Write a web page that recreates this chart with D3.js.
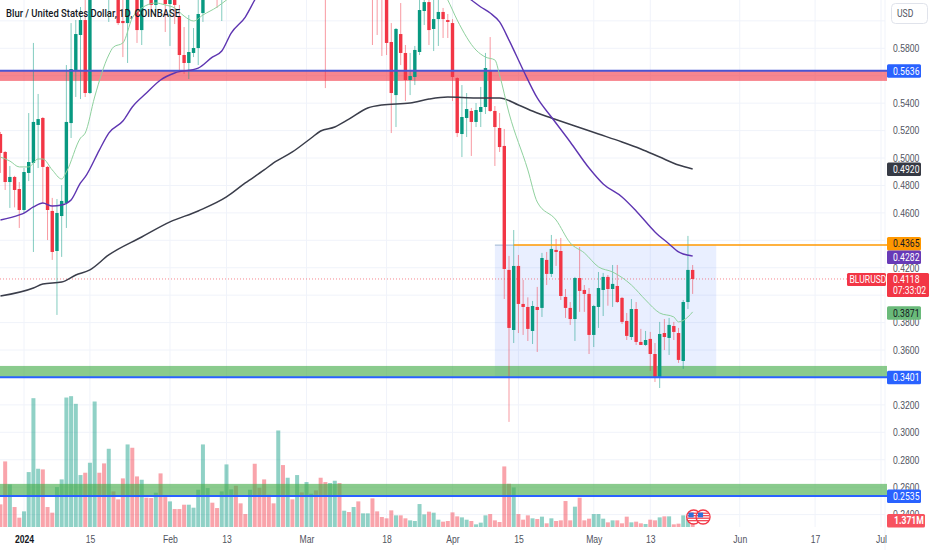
<!DOCTYPE html>
<html>
<head>
<meta charset="utf-8">
<script src="https://cdn.jsdelivr.net/npm/d3@7"></script>
<style>
  html, body { margin: 0; padding: 0; background: #fff; }
  svg { display: block; font-family: Roboto, sans-serif; }
  text { fill: #50535e; font-size: 10.5px; }
</style>
</head>
<body>
<svg id="chart" width="932" height="550"></svg>
<script>
// daily candles, first bar is 27 Dec 2023. Bars above the top edge of the picture are rough guesses.
var firstDay = Date.UTC(2023, 11, 27);
var opens = [.5175,.5044,.4825,.4862,.4774,.4621,.4891,.4964,.5241,.5292,
  .4935,.4614,.4322,.4577,.4672,.5255,.5642,.5897,.6006,.5474,
  .6260,.66,.645,.635,.665,.65,.5999,.5984,.635,.64,
  .5933,.635,.625,.6116,.622,.6185,.6123,.625,.6035,.5751,
  .5693,.5766,.5802,.6057,.635,.645,.63,.62,.645,.665,
  .675,.665,.655,.65,.66,.64,.635,.655,.645,.635,
  .68,.665,.68,.67,.685,.675,.69,.70,.69,.675,
  .66,.68,.69,.67,.68,.67,.68,.66,.67,.68,
  .65,.63,.62,.5846,.5459,.5904,.5766,.5569,.5591,.5773,
  .6072,.6137,.5941,.6013,.6065,.6006,.5984,.5583,.5175,.5292,
  .5343,.5263,.5336,.5372,.5642,.5343,.5219,.5088,.4184,.3746,
  .4213,.3936,.3914,.3739,.3914,.3907,.4257,.4155,.4330,.4322,
  .3987,.3907,.3826,.4125,.4038,.4009,.3710,.3914,.4038,.4133,
  .4045,.4067,.3980,.3812,.3695,.3899,.3659,.3637,.3681,.3571,
  .3404,.3724,.3688,.3775,.3724,.3520,.3950,.4184];
var highs = [.5190,.5051,.4942,.4870,.4825,.4927,.5328,.5839,.5467,.5299,
  .4942,.4709,.4701,.4803,.5678,.5984,.6006,.6101,.6200,.6400,
  .67,.675,.66,.675,.68,.66,.625,.645,.65,.65,
  .645,.645,.635,.63,.64,.63,.635,.64,.6116,.5955,
  .6043,.5948,.62,.65,.65,.655,.64,.655,.675,.68,
  .685,.675,.665,.67,.67,.655,.645,.665,.655,.69,
  .69,.685,.69,.695,.695,.70,.705,.71,.70,.69,
  .685,.695,.70,.685,.69,.685,.69,.68,.685,.69,
  .66,.645,.63,.5984,.5948,.6130,.5824,.5766,.5817,.6152,
  .625,.625,.62,.6160,.6094,.6050,.6013,.5590,.5532,.5474,
  .5365,.5401,.5518,.5766,.5882,.5379,.5328,.5212,.4286,.4475,
  .4293,.4111,.3984,.3958,.4060,.4308,.4315,.4439,.4410,.4417,
  .4045,.3950,.4133,.4351,.4074,.4052,.3929,.4169,.4162,.4147,
  .4220,.4220,.3987,.3870,.3972,.3950,.3754,.3739,.3732,.3651,
  .3805,.3826,.3834,.3805,.3761,.3965,.4432,.4220];
var lows = [.4891,.4767,.4636,.4640,.4490,.4599,.4832,.4315,.4927,.4672,
  .4402,.4257,.3856,.4279,.4490,.5146,.5445,.5430,.5445,.5467,
  .619,.64,.63,.5992,.64,.5970,.5736,.5693,.62,.5839,
  .5824,.62,.6079,.6065,.617,.5919,.5817,.5977,.5642,.5613,
  .5576,.5736,.5678,.5992,.62,.625,.6094,.5999,.635,.65,
  .655,.65,.64,.64,.635,.63,.622,.64,.63,.63,
  .66,.655,.665,.66,.67,.665,.68,.685,.67,.5510,
  .65,.67,.665,.66,.665,.66,.655,.65,.66,.5824,
  .5897,.5744,.5751,.5182,.5226,.5678,.5416,.5459,.5532,.5751,
  .5970,.5824,.5780,.5817,.5875,.5875,.5416,.5153,.5007,.5153,
  .5015,.5226,.5226,.5321,.5336,.4942,.5044,.3972,.3076,.3651,
  .3724,.3710,.3666,.3644,.3586,.3841,.4074,.4133,.4213,.3965,
  .3834,.3783,.3666,.3878,.3878,.3571,.3622,.3761,.3848,.3923,
  .3914,.3943,.3790,.3673,.3673,.3637,.3637,.3630,.3447,.3367,
  .3323,.3600,.3564,.3673,.3506,.3462,.3899,.4009];
var closes = [.5037,.4825,.4862,.4767,.4621,.4898,.4971,.5263,.5284,.4935,
  .4621,.4315,.4599,.4687,.5263,.5649,.5904,.6006,.5474,.6260,
  .66,.645,.635,.665,.65,.5984,.5984,.635,.622,.5933,
  .635,.625,.6116,.622,.6185,.6123,.625,.6116,.5751,.5693,
  .5773,.5802,.6050,.635,.645,.63,.62,.645,.665,.675,
  .665,.655,.65,.66,.64,.635,.625,.645,.635,.68,
  .665,.68,.67,.685,.675,.69,.70,.69,.675,.66,
  .68,.69,.67,.68,.67,.68,.66,.67,.68,.65,
  .63,.62,.5839,.5474,.5941,.5766,.5569,.5598,.5788,.6079,
  .6137,.5933,.6013,.6065,.6013,.5992,.5591,.5182,.5299,.5357,
  .5263,.5350,.5372,.5656,.5343,.5226,.5080,.4191,.3761,.4213,
  .3936,.3914,.3754,.3921,.3892,.4271,.4155,.4337,.4315,.3994,
  .3907,.3826,.4125,.4031,.4009,.3710,.3921,.4052,.4133,.4045,
  .4082,.3950,.3805,.3703,.3899,.3659,.3637,.3673,.3571,.3404,
  .3717,.3695,.3783,.3732,.3528,.3950,.4184,.4118];
// volume in millions
var volumes = [5.17,14.97,9.73,4.56,2.13,3.57,12.54,29.41,13.30,13.15,
  4.56,3.27,9.12,10.87,29.56,29.87,28.12,11.86,12.39,14.67,
  28.65,12.39,14.52,17.86,8.13,6.31,11.10,18.85,18.09,11.55,
  10.79,6.69,6.61,7.83,12.24,6.84,5.85,4.10,4.10,5.09,
  5.09,4.41,8.51,18.85,8.89,5.55,4.33,8.13,14.29,8.59,
  9.42,5.40,2.96,8.51,14.44,8.97,10.87,7.37,5.40,22.04,
  14.14,11.25,6.31,11.86,7.90,10.26,7.60,8.36,11.25,10.26,
  10.03,10.56,10.03,3.72,3.42,4.56,5.85,3.12,3.12,6.54,
  3.57,2.28,1.98,3.80,2.66,2.66,1.98,1.52,1.37,5.24,
  2.89,3.50,3.27,1.67,1.22,1.37,3.34,2.43,2.20,1.67,
  1.37,.61,.99,2.66,2.96,1.52,1.14,13.83,9.88,9.04,
  2.96,1.67,2.66,1.98,1.82,2.36,.84,1.98,1.37,1.52,
  5.93,1.52,4.64,6.69,1.52,1.90,2.96,2.96,1.90,1.06,
  1.52,1.52,.84,2.36,1.06,1.22,.84,.68,1.67,1.52,
  2.20,2.43,2.43,.61,.76,2.66,1.90,1.371];

// moving averages, read every few days (day number counted from 1 Jan 2024)
var maFastDays = [-5,-3,-1,1,3,4,6,8,9,12,13,15,18,19,21,23,25,28,30,32,34,36,38,41,43,55,70,85,90,92,96,98,100,101,103,107,109,113,116,119,122,125,129,132,135,138,139,141,142];
var maFast = [.5007,.4978,.4935,.4935,.4993,.4993,.4913,.4847,.4898,.5146,.5182,.5445,.5751,.5809,.5839,.6021,.6094,.6130,.6116,.6094,.6035,.5999,.6043,.6101,.6152,.64,.68,.64,.6152,.6006,.5787,.5736,.5715,.5605,.5328,.4913,.4679,.4548,.4381,.4308,.4206,.4169,.4074,.3965,.3870,.3841,.3805,.3841,.3878];
var maMidDays = [-5,-1,0,2,4,6,8,10,12,13,16,18,21,23,26,29,32,37,40,42,44,47,49,55,70,85,95,97,99,101,103,106,109,112,116,120,123,127,130,134,137,139,140,142];
var maMid = [.4548,.4585,.4599,.4643,.4672,.4650,.4657,.4694,.4818,.4862,.5058,.5182,.5270,.5372,.5474,.5569,.5620,.5656,.5736,.5780,.5911,.6028,.6152,.65,.665,.64,.6152,.6101,.6057,.5992,.5860,.5642,.5438,.5299,.5117,.4927,.4811,.4716,.4614,.4461,.4373,.4315,.4300,.4286];
var maSlowDays = [-5,2,4,8,11,14,18,25,31,37,43,47,51,53,57,61,63,66,69,73,76,82,86,90,96,101,105,109,112,117,122,127,131,135,139,142];
var maSlow = [.3994,.4052,.4082,.4096,.4147,.4184,.4293,.4424,.4534,.4614,.4716,.4818,.4913,.4964,.5044,.5146,.5197,.5226,.5284,.5365,.5387,.5401,.5430,.5445,.5438,.5438,.5387,.5328,.5292,.5233,.5175,.5117,.5066,.5007,.4949,.4920];

// supply and demand bands
var zoneTops = [.5636,.3484,.2624];
var zoneBottoms = [.5562,.3401,.2535];
var zoneLevels = [.5636,.3401,.2535];

var gridTicks = [.60,.58,.56,.54,.52,.50,.48,.46,.44,.42,.40,.38,.36,.34,.32,.30,.28,.26,.24];
var priceTicks = [.58,.54,.52,.50,.48,.46,.42,.38,.36,.32,.30,.28,.26,.24];
var timeTicks = [Date.UTC(2024,0,1),Date.UTC(2024,0,15),Date.UTC(2024,1,1),Date.UTC(2024,1,13),Date.UTC(2024,2,1),Date.UTC(2024,2,18),Date.UTC(2024,3,1),Date.UTC(2024,3,15),Date.UTC(2024,4,1),Date.UTC(2024,4,13),Date.UTC(2024,5,1),Date.UTC(2024,5,17),Date.UTC(2024,6,1)];
var timeLabels = ["2024","15","Feb","13","Mar","18","Apr","15","May","13","Jun","17","Jul"];

var rangeTop = .4365, rangeBottom = .3401;
var lastClose = .4118;
var tagPrices = [.5636,.4920,.4365,.4282,.3871,.3401,.2535];
var tagLabels = ["0.5636","0.4920","0.4365","0.4282","0.3871","0.3401","0.2535"];
var title = "Blur / United States Dollar, 1D, COINBASE";

function dayDate(i) { return d3.utcDay.offset(new Date(firstDay), i); }
function maDate(d) { return d3.utcDay.offset(new Date(Date.UTC(2024,0,1)), d); }

var green = "#089981", red = "#f23645", blue = "#2962ff";
var tagFills = ["#2962ff","#363a45","#ff9800","#673ab7","#6aba7a","#2962ff","#2962ff"];
var tagText = ["#fff","#fff","#131722","#fff","#131722","#fff","#fff"];
var tagShift = [0,0,-1.5,0.5,0,0,0];

var paneRight = 887, paneBottom = 527, axisX = 885;

var x = d3.scaleUtc().domain([new Date(timeTicks[0]), new Date(timeTicks[12])]).range([24, 881]);
var y = d3.scaleLinear().domain([.58, .24]).range([48.3, 514.6]);
var yVol = d3.scaleLinear().domain([0, 30]).range([paneBottom, paneBottom - 131.4]);

var svg = d3.select("#chart");
svg.append("clipPath").attr("id", "pane").append("rect").attr("width", paneRight).attr("height", paneBottom);

// grid
var grid = svg.append("g").attr("stroke", "#f0f3fa").attr("stroke-width", 1);
grid.selectAll(".gy").data(gridTicks).enter().append("line").attr("class", "gy")
  .attr("x1", 0).attr("x2", axisX).attr("y1", function(d) { return y(d); }).attr("y2", function(d) { return y(d); });
grid.selectAll(".gx").data(timeTicks).enter().append("line").attr("class", "gx")
  .attr("x1", function(d) { return x(new Date(d)); }).attr("x2", function(d) { return x(new Date(d)); })
  .attr("y1", 0).attr("y2", paneBottom);
grid.append("line").attr("x1", axisX).attr("x2", axisX).attr("y1", 0).attr("y2", 550);

var pane = svg.append("g").attr("clip-path", "url(#pane)");
var idx = d3.range(opens.length);
function isUp(i) { return closes[i] >= opens[i]; }

// range box
pane.append("rect").attr("x", x(dayDate(105))).attr("width", x(maDate(147.5)) - x(dayDate(105)))
  .attr("y", y(rangeTop)).attr("height", y(rangeBottom) - y(rangeTop))
  .attr("fill", blue).attr("fill-opacity", .1);
pane.append("line").attr("x1", x(dayDate(105))).attr("x2", x(dayDate(109)))
  .attr("y1", y(rangeTop)).attr("y2", y(rangeTop)).attr("stroke", "#9db4cf").attr("stroke-width", 1);

// volume
pane.selectAll(".vol").data(idx).enter().append("rect").attr("class", "vol")
  .attr("x", function(i) { return x(dayDate(i)) - 2; }).attr("width", 4)
  .attr("y", function(i) { return yVol(volumes[i]); })
  .attr("height", function(i) { return paneBottom - yVol(volumes[i]); })
  .attr("fill", function(i) { return isUp(i) ? green : red; }).attr("fill-opacity", .45);

// bands
var zoneFills = [red, "#4caf50", "#4caf50"];
pane.selectAll(".zone").data(zoneTops).enter().append("rect").attr("class", "zone")
  .attr("x", 0).attr("width", paneRight)
  .attr("y", function(d) { return y(d); })
  .attr("height", function(d, i) { return y(zoneBottoms[i]) - y(d); })
  .attr("fill", function(d, i) { return zoneFills[i]; }).attr("fill-opacity", function(d, i) { return i ? .65 : .6; });

// last price line
pane.append("line").attr("x1", 0).attr("x2", paneRight).attr("y1", y(lastClose)).attr("y2", y(lastClose))
  .attr("stroke", red).attr("stroke-opacity", .6).attr("stroke-dasharray", "1 2");

// candles
pane.selectAll(".wick").data(idx).enter().append("line").attr("class", "wick")
  .attr("x1", function(i) { return x(dayDate(i)); }).attr("x2", function(i) { return x(dayDate(i)); })
  .attr("y1", function(i) { return y(highs[i]); }).attr("y2", function(i) { return y(lows[i]); })
  .attr("stroke", function(i) { return isUp(i) ? green : red; }).attr("stroke-opacity", .5).attr("stroke-width", 1);
pane.selectAll(".body").data(idx).enter().append("rect").attr("class", "body")
  .attr("x", function(i) { return x(dayDate(i)) - 1.7; }).attr("width", 3.4)
  .attr("y", function(i) { return y(Math.max(opens[i], closes[i])); })
  .attr("height", function(i) { return Math.max(1, Math.abs(y(opens[i]) - y(closes[i]))); })
  .attr("fill", function(i) { return isUp(i) ? green : red; });

// level lines on the bands
pane.selectAll(".level").data(zoneLevels).enter().append("line").attr("class", "level")
  .attr("x1", 0).attr("x2", paneRight).attr("y1", function(d) { return y(d); }).attr("y2", function(d) { return y(d); })
  .attr("stroke", function(d, i) { return i ? blue : "#4a55d2"; }).attr("stroke-width", 2);
pane.append("line").attr("x1", x(dayDate(109))).attr("x2", paneRight).attr("y1", y(rangeTop)).attr("y2", y(rangeTop))
  .attr("stroke", "#ff9800").attr("stroke-width", 1.5);

// moving averages
function maLine(days, vals, color, w) {
  var line = d3.line().x(function(d) { return x(maDate(d)); })
    .y(function(d, i) { return y(vals[i]); }).curve(d3.curveMonotoneX);
  pane.append("path").attr("d", line(days)).attr("fill", "none").attr("stroke", color).attr("stroke-width", w);
}
maLine(maSlowDays, maSlow, "#3a3d4a", 1.5);
maLine(maMidDays, maMid, "#5e35b1", 1.4);
maLine(maFastDays, maFast, "#8fd19e", 1);

// US holiday flags on the volume pane
svg.append("clipPath").attr("id", "flagClip").append("circle").attr("r", 6.6);
var flagDates = [maDate(142), maDate(144)];
var flags = svg.selectAll(".flag").data(flagDates).enter().append("g").attr("class", "flag")
  .attr("transform", function(d) { return "translate(" + (x(d) + 1) + ",517)"; });
flags.append("circle").attr("r", 7).attr("fill", "#fff").attr("stroke", red).attr("stroke-width", 1.3);
var flagInner = flags.append("g").attr("clip-path", "url(#flagClip)");
flagInner.selectAll(".st").data([-3.8, -1.3, 1.2, 3.7]).enter().append("rect").attr("class", "st")
  .attr("x", -7).attr("width", 14).attr("y", function(d) { return d - .6; }).attr("height", 1.2).attr("fill", red);
flagInner.append("rect").attr("x", -5.2).attr("y", -4.4).attr("width", 5.2).attr("height", 4.8).attr("fill", "#2f6fd8");

// axes
var priceAxis = d3.axisRight(y).tickValues(priceTicks).tickSize(0).tickPadding(0).tickFormat(d3.format(".4f"));
var gp = svg.append("g").attr("transform", "translate(893,0)").call(priceAxis);
gp.select(".domain").remove();
gp.selectAll("text").style("font-size", "10.5px").style("fill", "#50535e").style("font-family", "inherit");

var timeAxis = d3.axisBottom(x).tickValues(timeTicks.map(function(d) { return new Date(d); }))
  .tickSize(0).tickPadding(0).tickFormat(function(d, i) { return timeLabels[i]; });
var gt = svg.append("g").attr("transform", "translate(0,535.5)").call(timeAxis);
gt.select(".domain").remove();
gt.selectAll("text").style("font-size", "10.5px").style("font-family", "inherit")
  .style("font-weight", function(d, i) { return i === 0 ? "bold" : "normal"; }).style("fill", function(d, i) { return i === 0 ? "#131722" : "#50535e"; });

// USD button
svg.append("rect").attr("x", 891.5).attr("y", 3.5).attr("width", 36).attr("height", 20).attr("rx", 4)
  .attr("fill", "#fff").attr("stroke", "#e0e3eb");
svg.append("text").attr("x", 897).attr("y", 17).text("USD").style("fill", "#50535e");

// price tags
var tags = svg.selectAll(".tag").data(tagPrices).enter().append("g").attr("class", "tag")
  .attr("transform", function(d, i) { return "translate(887," + (y(d) + tagShift[i]) + ")"; });
tags.append("rect").attr("x", 0).attr("y", -6.5).attr("width", 34).attr("height", 13.5).attr("rx", 1.5)
  .attr("fill", function(d, i) { return tagFills[i]; });
tags.append("text").attr("x", 6).attr("y", 3.8).text(function(d, i) { return tagLabels[i]; })
  .style("fill", function(d, i) { return tagText[i]; });

// last price and volume tags
var ly = y(lastClose);
svg.append("rect").attr("x", 847).attr("y", ly - 6).attr("width", 39).attr("height", 13).attr("rx", 1.5).attr("fill", red);
svg.append("text").attr("x", 849.5).attr("y", ly + 4).text("BLURUSD").style("fill", "#fff");
svg.append("rect").attr("x", 887).attr("y", ly - 6).attr("width", 42).attr("height", 24).attr("rx", 1.5).attr("fill", red);
svg.append("text").attr("x", 893).attr("y", ly + 4).text("0.4118").style("fill", "#fff");
svg.append("text").attr("x", 893).attr("y", ly + 15.5).text("07:33:02").style("fill", "#fff");
var vy = yVol(volumes[volumes.length - 1]);
svg.append("rect").attr("x", 887).attr("y", vy - 7).attr("width", 38).attr("height", 13.5).attr("rx", 1.5).attr("fill", "#f7525f");
svg.append("text").attr("x", 894).attr("y", vy + 3.5).text("1.371M").style("fill", "#fff").style("font-weight", "bold");

// the reference type runs narrower than Roboto, so squeeze it a little
svg.selectAll("text").each(function() {
  d3.select(this).attr("textLength", this.getComputedTextLength() * .82).attr("lengthAdjust", "spacingAndGlyphs");
});

// title
svg.append("text").attr("x", 6).attr("y", 16.5).text(title)
  .attr("textLength", 174).attr("lengthAdjust", "spacingAndGlyphs")
  .style("fill", "#131722").style("font-weight", 500).style("font-size", "11px");
</script>
</body>
</html>
